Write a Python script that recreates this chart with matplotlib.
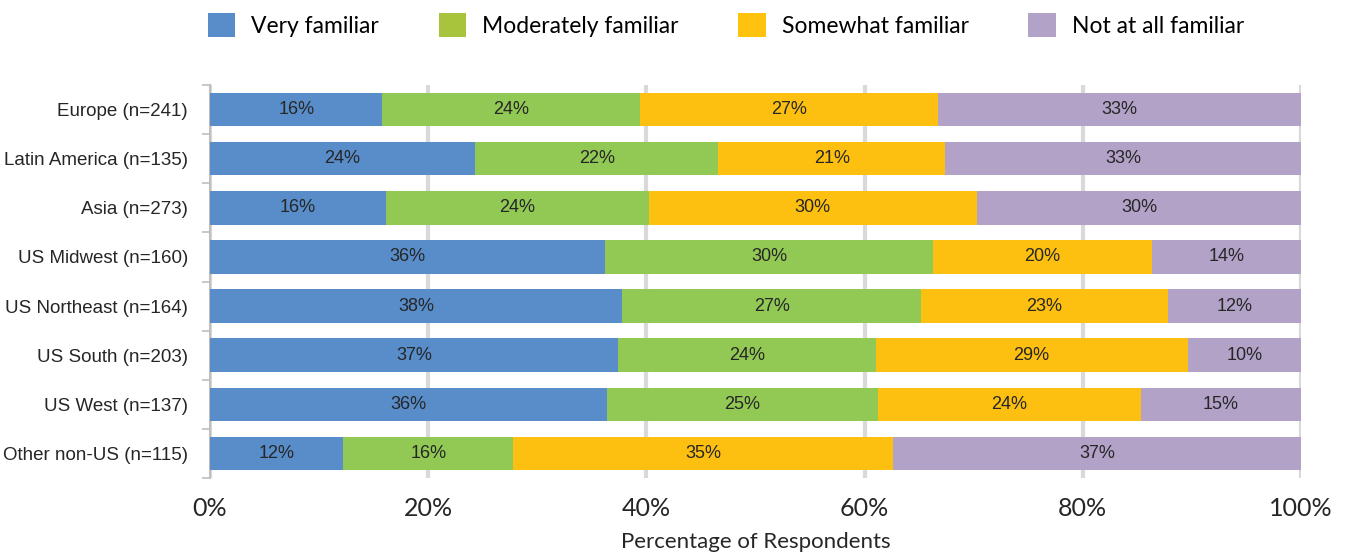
import numpy as np
import matplotlib.pyplot as plt
from matplotlib.patches import Patch

regions = ["Europe (n=241)", "Latin America (n=135)", "Asia (n=273)",
           "US Midwest (n=160)", "US Northeast (n=164)", "US South (n=203)",
           "US West (n=137)", "Other non-US (n=115)"]
series = ["Very familiar", "Moderately familiar", "Somewhat familiar", "Not at all familiar"]

very = [15.8, 24.3, 16.1, 36.2, 37.8, 37.4, 36.4, 12.2]
moderately = [23.6, 22.3, 24.1, 30.1, 27.4, 23.6, 24.8, 15.6]
somewhat = [27.3, 20.8, 30.1, 20.0, 22.6, 28.6, 24.1, 34.8]
not_at_all = [33.3, 32.6, 29.7, 13.7, 12.2, 10.4, 14.7, 37.4]

bar_colors = ["#588DCA", "#92C955", "#FDC010", "#B3A2C8"]
legend_colors = ["#588DCA", "#A8C43C", "#FFC20E", "#B3A2C8"]

fig = plt.figure(figsize=(13.58, 5.56), dpi=100)
ax = fig.add_axes([210 / 1358, 1 - 478 / 556, 1091 / 1358, 393 / 556])

y = np.arange(len(regions))
left = np.zeros(len(regions))
for vals, col in zip([very, moderately, somewhat, not_at_all], bar_colors):
    vals = np.array(vals)
    ax.barh(y, vals, left=left, height=0.68, color=col, zorder=3)
    for yi, l, v in zip(y, left, vals):
        ax.text(l + v / 2, yi, f"{v:.0f}%", ha="center", va="center",
                fontsize=13, family="Liberation Sans", color="#262626", zorder=4)
    left += vals

ax.set_xlim(0, 100)
ax.set_ylim(len(regions) - 0.5, -0.5)
ax.set_xticks(np.arange(0, 101, 20))
ax.set_xticklabels([f"{t}%" for t in range(0, 101, 20)], family="Lato",
                   fontsize=18, color="#262626")
ax.tick_params(axis="x", length=0, pad=14)
ax.set_yticks(y)
ax.set_yticklabels(regions, family="Liberation Sans", fontsize=13.5, color="#262626")
ax.set_yticks(np.arange(-0.5, len(regions), 1), minor=True)
ax.tick_params(axis="y", which="major", length=0, pad=16)
ax.tick_params(axis="y", which="minor", length=6, color="#BFBFBF", width=1.2)
ax.grid(axis="x", color="#D9D9D9", linewidth=3, zorder=0)
for s in ["top", "right", "bottom"]:
    ax.spines[s].set_visible(False)
ax.spines["left"].set_color("#BFBFBF")
ax.spines["left"].set_linewidth(1.5)
ax.set_xlabel("Percentage of Respondents", family="Lato",
              fontsize=16, color="#262626", labelpad=8)

handles = [Patch(facecolor=c, edgecolor="none") for c in legend_colors]
fig.legend(handles, series, loc="center", bbox_to_anchor=(726 / 1358, 1 - 25 / 556),
           ncol=4, frameon=False, handlelength=1.2, handleheight=1.2,
           handletextpad=0.7, columnspacing=2.6,
           prop={"family": "Lato", "size": 16.5})

fig.savefig("out.png", dpi=100)
